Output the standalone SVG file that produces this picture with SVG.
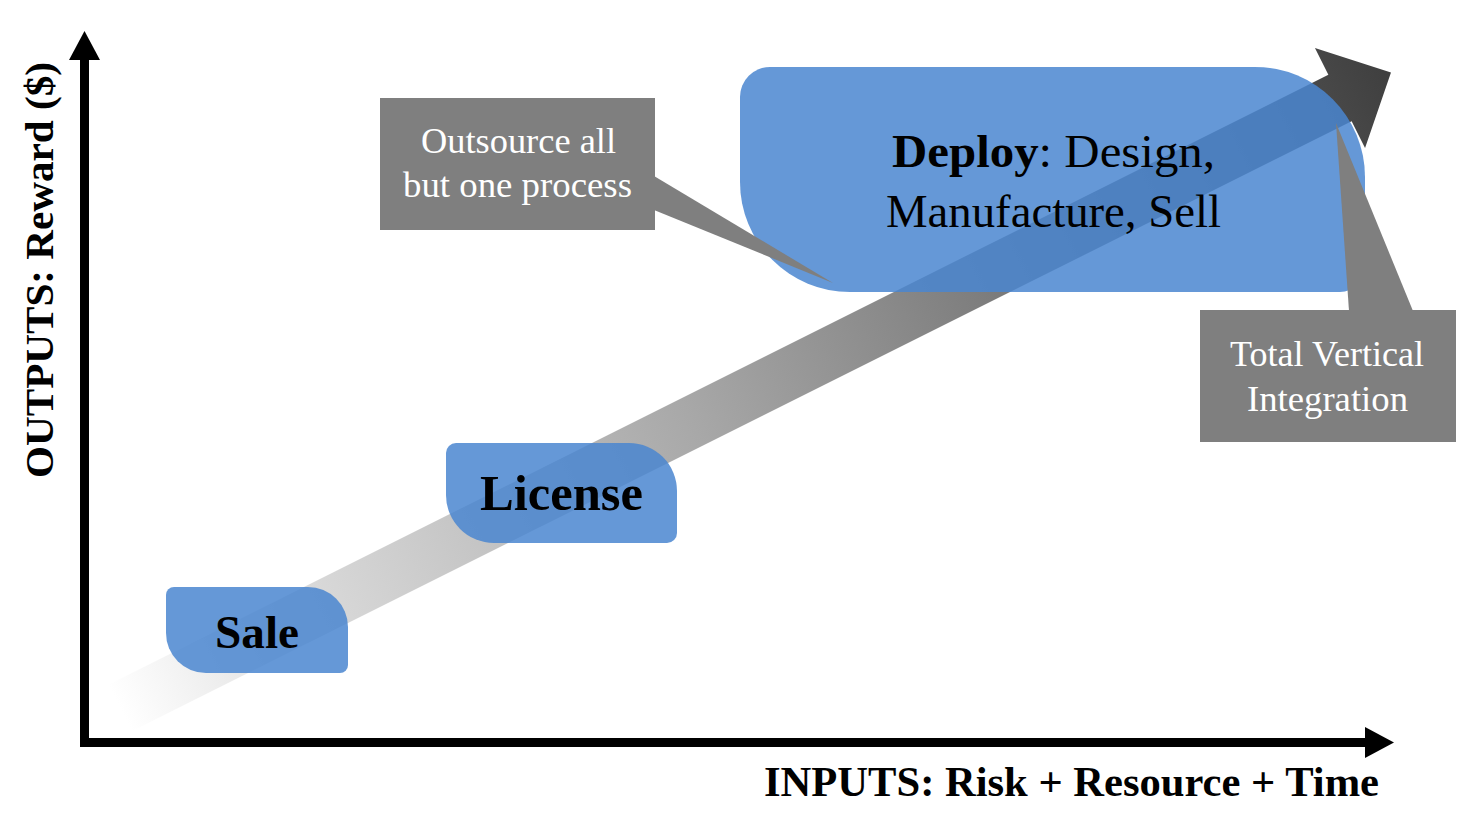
<svg xmlns="http://www.w3.org/2000/svg" width="1457" height="833" viewBox="0 0 1457 833">
<style>
.serif{font-family:"Liberation Serif","Times New Roman",serif}
.blue{fill:#4a86d0;fill-opacity:0.85}
.call{fill:#7f7f7f}
.ct{fill:#ffffff;font-size:36px}
.bt{fill:#000000}
</style>
<defs>
<linearGradient id="ag" gradientUnits="userSpaceOnUse" x1="0" y1="0" x2="1421" y2="0">
<stop offset="0" stop-color="#ffffff"/>
<stop offset="0.15" stop-color="#dadada"/>
<stop offset="0.45" stop-color="#a8a8a8"/>
<stop offset="0.7" stop-color="#787878"/>
<stop offset="1" stop-color="#3f3f3f"/>
</linearGradient>
</defs>
<rect width="1457" height="833" fill="#ffffff"/>
<g id="axes">
<rect x="80" y="58" width="9" height="689" fill="#000"/>
<rect x="80" y="738" width="1287" height="9" fill="#000"/>
<polygon points="84.5,31 69,60 100,60" fill="#000"/>
<polygon points="1394,742.5 1365,727 1365,758" fill="#000"/>
</g>
<g id="connectors">
<polygon id="growth-arrow" transform="translate(120,708) rotate(-26.565)" points="0,-26 1364,-26 1364,-56 1421,0 1364,56 1364,26 0,26" fill="url(#ag)"/>
</g>
<g id="sale">
<path class="blue" d="M174 587H308A40 40 0 0 1 348 627V665A8 8 0 0 1 340 673H206A40 40 0 0 1 166 633V595A8 8 0 0 1 174 587Z"/>
<text class="serif bt" x="215" y="648" font-size="47" font-weight="bold" textLength="84" lengthAdjust="spacingAndGlyphs">Sale</text>
</g>
<g id="license">
<path class="blue" d="M456 443H629A48 48 0 0 1 677 491V533A10 10 0 0 1 667 543H494A48 48 0 0 1 446 495V453A10 10 0 0 1 456 443Z"/>
<text class="serif bt" x="480" y="510" font-size="50" font-weight="bold" textLength="163" lengthAdjust="spacingAndGlyphs">License</text>
</g>
<g id="deploy">
<path class="blue" d="M770 67H1255A110 110 0 0 1 1365 177V267A25 25 0 0 1 1340 292H850A110 110 0 0 1 740 182V97A30 30 0 0 1 770 67Z"/>
<text class="serif bt" x="892" y="167" font-size="47" textLength="323" lengthAdjust="spacingAndGlyphs"><tspan font-weight="bold">Deploy</tspan>: Design,</text>
<text class="serif bt" x="886" y="227" font-size="47" textLength="335" lengthAdjust="spacingAndGlyphs">Manufacture, Sell</text>
</g>
<g id="callout-outsource">
<rect class="call" x="380" y="98" width="275" height="132"/>
<polygon class="call" points="654,176 833,283 654,210"/>
<text class="serif ct" x="421" y="153" textLength="195" lengthAdjust="spacingAndGlyphs">Outsource all</text>
<text class="serif ct" x="403" y="197" textLength="229" lengthAdjust="spacingAndGlyphs">but one process</text>
</g>
<g id="callout-total">
<rect class="call" x="1200" y="310" width="256" height="132"/>
<polygon class="call" points="1349,311 1336,123 1413,311"/>
<text class="serif ct" x="1230" y="366" textLength="194" lengthAdjust="spacingAndGlyphs">Total Vertical</text>
<text class="serif ct" x="1247" y="411" textLength="161" lengthAdjust="spacingAndGlyphs">Integration</text>
</g>
<g id="labels">
<text class="serif" x="764" y="796" font-size="42" font-weight="bold" textLength="615" lengthAdjust="spacingAndGlyphs">INPUTS: Risk + Resource + Time</text>
<text class="serif" transform="translate(53,478) rotate(-90)" font-size="41" font-weight="bold" textLength="416" lengthAdjust="spacingAndGlyphs">OUTPUTS: Reward ($)</text>
</g>
</svg>
